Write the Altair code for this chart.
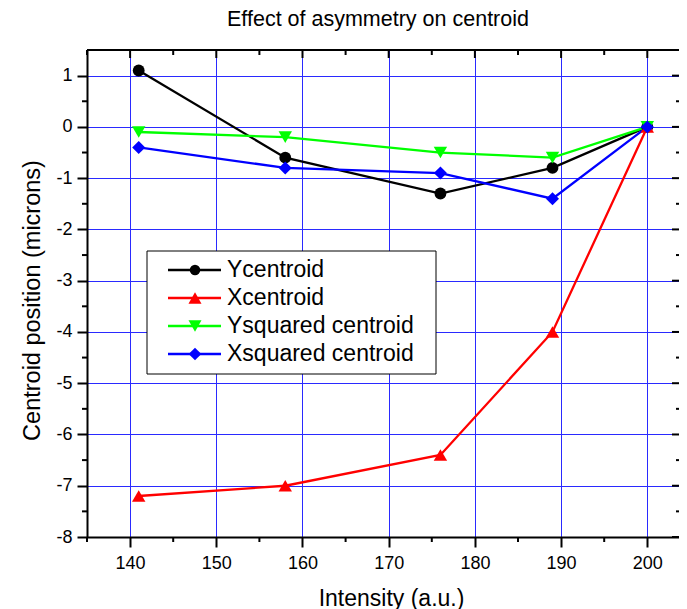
import altair as alt
import pandas as pd

# ---------------- data ----------------
intensity = [141, 158, 176, 189, 200]
ycentroid = [1.1, -0.6, -1.3, -0.8, 0.0]
xcentroid = [-7.2, -7.0, -6.4, -4.0, 0.0]
ysquared = [-0.1, -0.2, -0.5, -0.6, 0.0]
xsquared = [-0.4, -0.8, -0.9, -1.4, 0.0]

series_names = ["Ycentroid", "Xcentroid", "Ysquared centroid", "Xsquared centroid"]
series_values = [ycentroid, xcentroid, ysquared, xsquared]
series_colors = ["#000000", "#ff0000", "#00ff00", "#0000ff"]
series_shapes = ["circle", "triangle-up", "triangle-down", "diamond"]
marker_sizes = [140, 180, 180, 170]
legend_marker_sizes = [110, 170, 170, 160]

x_major = [140, 150, 160, 170, 180, 190, 200]
x_minor = [135, 145, 155, 165, 175, 185, 195]
y_major = [-8, -7, -6, -5, -4, -3, -2, -1, 0, 1]
y_minor = [-7.5, -6.5, -5.5, -4.5, -3.5, -2.5, -1.5, -0.5, 0.5]

W, H = 592, 487
FONT = "Liberation Sans"
XT = "Intensity (a.u.)"
YT = "Centroid position (microns)"

rows = []
for name, vals in zip(series_names, series_values):
    for xv, yv in zip(intensity, vals):
        rows.append({"series": name, "intensity": xv, "value": yv})
df = pd.DataFrame(rows)

xscale = alt.Scale(domain=[135, 135 + W / 8.62], nice=False, zero=False)
yscale = alt.Scale(domain=[-8, 1.5], nice=False, zero=False)
cscale = alt.Scale(domain=series_names, range=series_colors)

x_axis = alt.Axis(
    values=x_major, grid=True, gridColor="#2a2aff", gridWidth=1,
    domainColor="black", domainWidth=2, tickColor="black", tickWidth=2, tickSize=10,
    labelFont=FONT, labelFontSize=18, labelColor="black", labelPadding=7,
    labelFlush=False, labelOverlap=False,
    titleFont=FONT, titleFontSize=23, titleFontWeight="normal", titleColor="black",
    titleX=304, titleY=68, titleBaseline="alphabetic", titleAlign="center",
)
y_axis = alt.Axis(
    values=y_major, grid=True, gridColor="#2a2aff", gridWidth=1,
    domainColor="black", domainWidth=2, tickColor="black", tickWidth=2, tickSize=10,
    labelFont=FONT, labelFontSize=18, labelColor="black", labelPadding=5,
    labelExpr="datum.value + ''", labelOverlap=False,
    titleFont=FONT, titleFontSize=23.5, titleFontWeight="normal", titleColor="black",
    titleAngle=-90, titleX=-47.5, titleY=250, titleBaseline="alphabetic", titleAlign="center",
)

base = alt.Chart(df)

lines = base.mark_line(strokeWidth=2.3).encode(
    x=alt.X("intensity:Q", scale=xscale, axis=x_axis, title=XT),
    y=alt.Y("value:Q", scale=yscale, axis=y_axis, title=YT),
    color=alt.Color("series:N", scale=cscale, legend=None),
    detail="series:N",
)

point_layers = []
for name, col, shp, sz in zip(series_names, series_colors, series_shapes, marker_sizes):
    point_layers.append(
        base.transform_filter(alt.datum.series == name)
        .mark_point(shape=shp, filled=True, size=sz, color=col, opacity=1)
        .encode(
            x=alt.X("intensity:Q", scale=xscale, title=XT),
            y=alt.Y("value:Q", scale=yscale, title=YT),
        )
    )

# ---------------- frame ticks ----------------
xmaj_df = pd.DataFrame({"tick": x_major})
xmin_df = pd.DataFrame({"tick": x_minor})
ymaj_df = pd.DataFrame({"tick": y_major})
ymin_df = pd.DataFrame({"tick": y_minor})


def xt(d):
    return alt.Chart(d).mark_rule(color="black", strokeWidth=2)


bottom_minor = xt(xmin_df).encode(
    x=alt.X("tick:Q", scale=xscale, title=XT), y=alt.value(H), y2=alt.value(H + 5))
top_major = xt(xmaj_df).encode(
    x=alt.X("tick:Q", scale=xscale, title=XT), y=alt.value(0), y2=alt.value(8))
top_minor = xt(xmin_df).encode(
    x=alt.X("tick:Q", scale=xscale, title=XT), y=alt.value(0), y2=alt.value(5))
left_minor = xt(ymin_df).encode(
    y=alt.Y("tick:Q", scale=yscale, title=YT), x=alt.value(0), x2=alt.value(-5))
right_major = xt(ymaj_df).encode(
    y=alt.Y("tick:Q", scale=yscale, title=YT), x=alt.value(W), x2=alt.value(W - 7))
right_minor = xt(ymin_df).encode(
    y=alt.Y("tick:Q", scale=yscale, title=YT), x=alt.value(W), x2=alt.value(W - 3))
top_border = alt.Chart(xmaj_df).mark_rule(color="black", strokeWidth=2).encode(
    x=alt.value(0), x2=alt.value(W), y=alt.value(0))

main = alt.layer(lines, *point_layers,
                 bottom_minor, top_major, top_minor, left_minor, right_major, right_minor, top_border)

# ---------------- legend (drawn with marks) ----------------
leg_df = pd.DataFrame({
    "series": series_names,
    "shape": series_shapes,
    "msize": legend_marker_sizes,
})
leg_y = alt.Y("series:N", scale=alt.Scale(type="point", domain=series_names, range=[220, 304], padding=0),
              axis=None)
leg_base = alt.Chart(leg_df)

leg_box = alt.Chart(pd.DataFrame({"box": [0]})).mark_rect(
    fill="white", stroke="black", strokeWidth=1).encode(
    x=alt.value(60), x2=alt.value(349), y=alt.value(201), y2=alt.value(324))
leg_lines = leg_base.mark_rule(strokeWidth=2.3).encode(
    y=leg_y, x=alt.value(81), x2=alt.value(134),
    color=alt.Color("series:N", scale=cscale, legend=None))
leg_points = leg_base.mark_point(filled=True, opacity=1).encode(
    y=leg_y, x=alt.value(108),
    color=alt.Color("series:N", scale=cscale, legend=None),
    shape=alt.Shape("series:N", scale=alt.Scale(domain=series_names, range=series_shapes), legend=None),
    size=alt.Size("msize:Q", scale=None, legend=None))
leg_text = leg_base.mark_text(align="left", baseline="middle", font=FONT, fontSize=23,
                              color="black").encode(
    y=leg_y, x=alt.value(140), text="series:N")

legend = alt.layer(leg_box, leg_lines, leg_points, leg_text)

chart = (
    alt.layer(main, legend)
    .resolve_scale(y="independent")
    .properties(
        width=W, height=H,
        title=alt.Title("Effect of asymmetry on centroid", font=FONT, fontSize=21.5,
                        fontWeight="normal", color="black", anchor="middle", frame="group",
                        offset=19, dx=-5),
        autosize=alt.AutoSizeParams(type="none"),
        padding={"left": 79, "top": 42, "right": 0, "bottom": 72},
    )
    .configure_view(stroke=None)
)

chart.save("out.html", embed_options={"renderer": "svg", "actions": False})
